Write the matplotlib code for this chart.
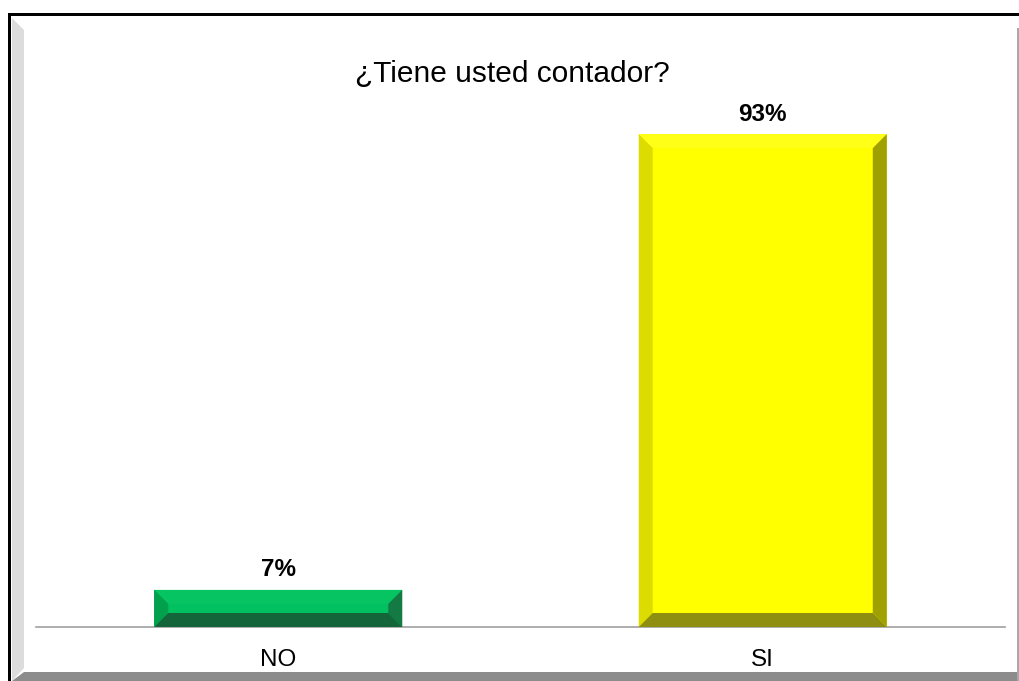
import matplotlib.pyplot as plt
from matplotlib.patches import Polygon, Rectangle

categories = ['NO', 'SI']
percent = [7, 93]
face_colors = ['#00c060', '#ffff00']
# shading for the bevelled edges: top, left, right, bottom
edge_colors = [
    ['#06c462', '#00a04c', '#127a42', '#14663a'],
    ['#ffff18', '#dcdc00', '#a0a000', '#8e8e10'],
]

W, H = 1020, 681
fig = plt.figure(figsize=(W / 100, H / 100), dpi=100)
fig.patch.set_facecolor('white')

# box around the chart: black top/left rule, grey wall and floor
ft = fig.transFigure
def px(x, y):
    return (x / W, 1 - y / H)

fig.patches.append(Polygon([px(12, 18), px(24, 30), px(24, 668), px(12, 681)],
                           closed=True, transform=ft, facecolor='#dcdcdc',
                           edgecolor='none'))
fig.patches.append(Polygon([px(12, 681), px(24, 672), px(1020, 672), px(1020, 681)],
                           closed=True, transform=ft, facecolor='#8c8c8c',
                           edgecolor='none'))
fig.patches.append(Rectangle(px(8, 16), 1012 / W, 3 / H, transform=ft,
                             facecolor='black', edgecolor='none'))
fig.patches.append(Rectangle(px(8, 681), 3 / W, 667 / H, transform=ft,
                             facecolor='black', edgecolor='none'))
fig.patches.append(Rectangle(px(1017, 681), 2 / W, 653 / H, transform=ft,
                             facecolor='#a8a8a8', edgecolor='none'))

ax = fig.add_axes([36 / W, 1 - 627 / H, 969 / W, 530 / H])
ax.set_xlim(-0.5, 1.5)
ax.set_ylim(0, 100)
for s in ['top', 'right', 'left']:
    ax.spines[s].set_visible(False)
ax.spines['bottom'].set_color('#a0a0a0')
ax.spines['bottom'].set_linewidth(1.2)
ax.set_yticks([])
ax.set_xticks(range(len(categories)))
ax.set_xticklabels(categories, fontsize=17.5, family='Liberation Sans')
ax.tick_params(axis='x', length=0, pad=16)

width = 0.512
bx = 14 / 484.5   # bevel size in x data units (~14 px)
by = 14 / 5.3     # bevel size in y data units

xs = list(range(len(categories)))
bars = ax.bar(xs, percent, width=width, color=face_colors, edgecolor='none', zorder=2)
for b, cols in zip(bars, edge_colors):
    x0, x1 = b.get_x(), b.get_x() + b.get_width()
    y0, y1 = 0, b.get_height()
    top, left, right, bottom = cols
    bev_y = min(by, (y1 - y0) / 2.6)
    ax.add_patch(Polygon([(x0, y1), (x1, y1), (x1 - bx, y1 - bev_y), (x0 + bx, y1 - bev_y)],
                         facecolor=top, edgecolor='none', zorder=3))
    ax.add_patch(Polygon([(x0, y1), (x0 + bx, y1 - bev_y), (x0 + bx, y0 + by), (x0, y0)],
                         facecolor=left, edgecolor='none', zorder=3))
    ax.add_patch(Polygon([(x1, y1), (x1 - bx, y1 - bev_y), (x1 - bx, y0 + by), (x1, y0)],
                         facecolor=right, edgecolor='none', zorder=3))
    ax.add_patch(Polygon([(x0, y0), (x0 + bx, y0 + by), (x1 - bx, y0 + by), (x1, y0)],
                         facecolor=bottom, edgecolor='none', zorder=3))
    ax.text(b.get_x() + b.get_width() / 2, y1 + 1.6, f'{y1:.0f}%',
            ha='center', va='bottom', fontsize=17.5, fontweight='bold',
            family='Liberation Sans')

fig.text(512 / W, 1 - 74 / H, '¿Tiene usted contador?', ha='center', va='center',
         fontsize=21.5, family='Liberation Sans')

fig.savefig('out.png', dpi=100)
